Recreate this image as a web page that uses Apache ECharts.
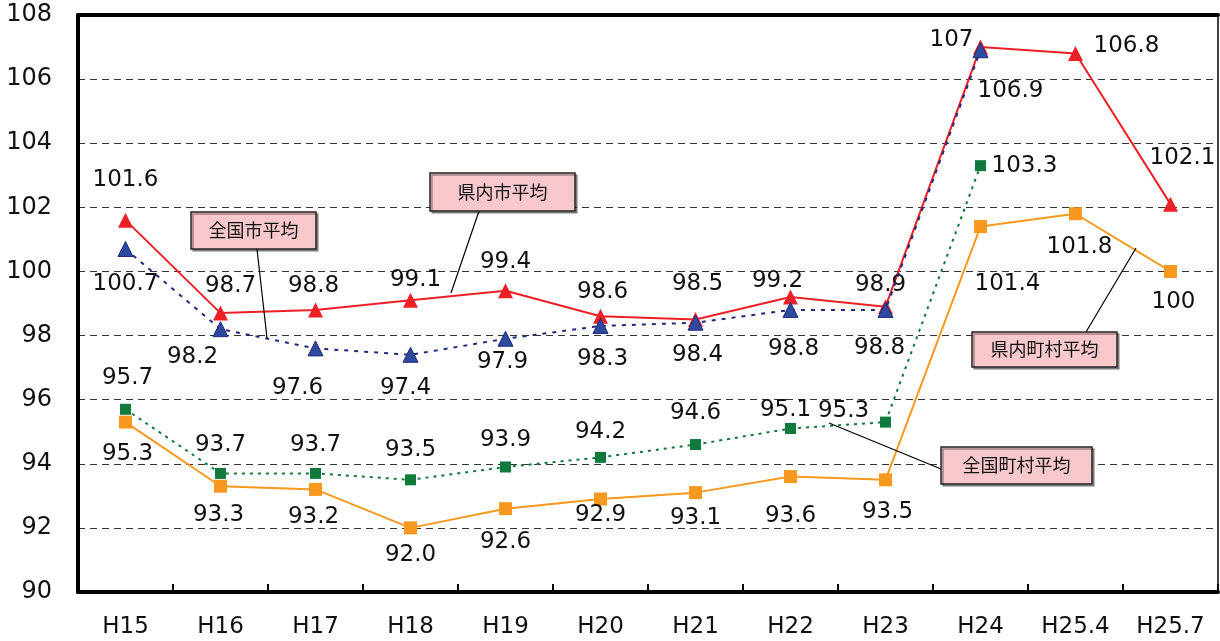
<!DOCTYPE html>
<html><head><meta charset="utf-8">
<script src="https://cdn.jsdelivr.net/npm/echarts@6/dist/echarts.min.js"></script>
<style>html,body{margin:0;padding:0;background:#fff}#c{width:1220px;height:641px}</style>
</head><body><div id="c"></div>
<script>
var categories = ['H15','H16','H17','H18','H19','H20','H21','H22','H23','H24','H25.4','H25.7'];
var kennaiShi   = [101.6, 98.7, 98.8, 99.1, 99.4, 98.6, 98.5, 99.2, 98.9, 107, 106.8, 102.1];
var zenkokuShi  = [100.7, 98.2, 97.6, 97.4, 97.9, 98.3, 98.4, 98.8, 98.8, 106.9, null, null];
var zenkokuChoson = [95.7, 93.7, 93.7, 93.5, 93.9, 94.2, 94.6, 95.1, 95.3, 103.3, null, null];
var kennaiChoson  = [95.3, 93.3, 93.2, 92.0, 92.6, 92.9, 93.1, 93.6, 93.5, 101.4, 101.8, 100];
var labelTexts = {
  kennaiShi: ['101.6','98.7','98.8','99.1','99.4','98.6','98.5','99.2','98.9','107','106.8','102.1'],
  zenkokuShi: ['100.7','98.2','97.6','97.4','97.9','98.3','98.4','98.8','98.8','106.9'],
  zenkokuChoson: ['95.7','93.7','93.7','93.5','93.9','94.2','94.6','95.1','95.3','103.3'],
  kennaiChoson: ['95.3','93.3','93.2','92.0','92.6','92.9','93.1','93.6','93.5','101.4','101.8','100']
};
var yTicks = [90, 108, 2];

// label offsets (layout only)
var offRed = [[0,-40],[10,-27],[-2,-24],[5,-20],[0,-29],[2,-24],[2,-35],[-13,-16],[-5,-22],[-29,-7],[51,-7],[12,-46]];
var offBlue = [[0,35],[-28,28],[-18,40],[-5,33],[-3,23],[2,33],[2,32],[3,39],[-6,38],[30,41]];
var offGreen = [[2,-31],[0,-28],[0,-28],[0,-30],[0,-27],[0,-25],[0,-32],[-5,-18],[-42,-11],[44,0]];
var offOrange = [[2,32],[-2,29],[-2,28],[0,27],[0,33],[0,16],[0,25],[0,39],[2,32],[27,57],[4,33],[3,31]];

var labelFont = {fontFamily:'DejaVu Sans', fontSize:23, color:'#111'};
function build(values, texts, offs){
  return values.map(function(v,i){
    if(v==null) return null;
    return {value:v, label:{show:true, position:'inside', offset:offs[i], formatter:texts[i],
      fontFamily:labelFont.fontFamily, fontSize:labelFont.fontSize, color:labelFont.color}};
  });
}

var chart = echarts.init(document.getElementById('c'));
var callouts = [
  {text:'全国市平均', box:[191,212,125,37], line:[[257,249],[267,338]]},
  {text:'県内市平均', box:[430,173,145,38], line:[[479,211],[451,293]]},
  {text:'県内町村平均', box:[972,332,145,35], line:[[1086,332],[1136,248]]},
  {text:'全国町村平均', box:[941,447,151,37], line:[[941,469],[829,423]]}
];
var graphic = [];
callouts.forEach(function(c){
  graphic.push({type:'line', shape:{x1:c.line[0][0],y1:c.line[0][1],x2:c.line[1][0],y2:c.line[1][1]}, style:{stroke:'#000', lineWidth:1.2}, z:100});
  graphic.push({type:'rect', shape:{x:c.box[0],y:c.box[1],width:c.box[2],height:c.box[3]}, style:{fill:'#f8c8cc', stroke:'#222', lineWidth:1.5, shadowColor:'rgba(0,0,0,0.35)', shadowOffsetX:2, shadowOffsetY:2}, z:100});
  graphic.push({type:'text', x:c.box[0]+c.box[2]/2, y:c.box[1]+c.box[3]/2, style:{text:c.text, fill:'#111', font:'18px "Noto Sans CJK JP"', textAlign:'center', textVerticalAlign:'middle'}, z:101});
});

chart.setOption({
  animation:false,
  backgroundColor:'#fff',
  grid:{left:78, right:2, top:15, bottom:49},
  xAxis:[{type:'category', data:categories, boundaryGap:true,
    axisLine:{lineStyle:{color:'#000', width:4}},
    axisTick:{show:true, inside:true, length:8, lineStyle:{color:'#000', width:2}},
    axisLabel:{fontFamily:'DejaVu Sans', fontSize:23, color:'#111', margin:24}},
   {type:'category', data:categories, position:'top', axisLine:{lineStyle:{color:'#000', width:4}}, axisTick:{show:false}, axisLabel:{show:false}}],
  yAxis:[{type:'value', min:yTicks[0], max:yTicks[1], interval:yTicks[2],
    axisLine:{show:true, lineStyle:{color:'#000', width:4}},
    axisTick:{show:false},
    axisLabel:{fontFamily:'DejaVu Sans', fontSize:24, color:'#111', margin:26},
    splitLine:{lineStyle:{color:'#333', type:[7,5], width:1}}},
   {type:'value', min:yTicks[0], max:yTicks[1], interval:yTicks[2], position:'right',
    axisLine:{show:true, lineStyle:{color:'#000', width:1.5}}, axisTick:{show:false}, axisLabel:{show:false}, splitLine:{show:false}}],
  series:[
    {name:'県内市平均', type:'line', data:build(kennaiShi, labelTexts.kennaiShi, offRed), symbol:'triangle', symbolSize:15,
      lineStyle:{color:'#ee2027', width:2}, itemStyle:{color:'#ee2027'}, z:5},
    {name:'全国市平均', type:'line', data:build(zenkokuShi, labelTexts.zenkokuShi, offBlue), symbol:'triangle', symbolSize:15,
      lineStyle:{color:'#1f2b7a', width:2, type:[4,6]}, itemStyle:{color:'#2e4a9e', borderColor:'#1f2b7a', borderWidth:1}, z:6},
    {name:'全国町村平均', type:'line', data:build(zenkokuChoson, labelTexts.zenkokuChoson, offGreen), symbol:'rect', symbolSize:11,
      lineStyle:{color:'#107a3c', width:2, type:[3,5]}, itemStyle:{color:'#107a3c'}, z:4},
    {name:'県内町村平均', type:'line', data:build(kennaiChoson, labelTexts.kennaiChoson, offOrange), symbol:'rect', symbolSize:13,
      lineStyle:{color:'#f7991f', width:2}, itemStyle:{color:'#f7991f'}, z:3}
  ],
  graphic:graphic
});
</script></body></html>
